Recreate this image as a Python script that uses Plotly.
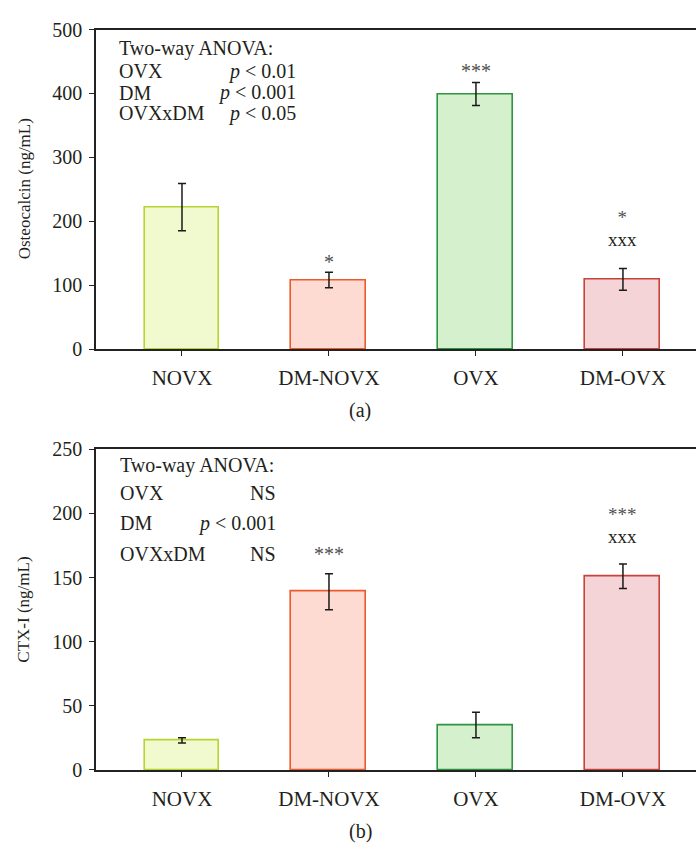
import plotly.graph_objects as go

# ---------------- data ----------------
categories = ["NOVX", "DM-NOVX", "OVX", "DM-OVX"]
osteocalcin_mean = [222, 108, 399, 109]
osteocalcin_err = [37, 12, 18, 17]
ctx_mean = [23, 139, 35, 151]
ctx_err = [2, 14, 10, 9.5]

# significance marks: (stars vs NOVX, x-marks vs OVX)
sig_stars_a = ["", "*", "***", "*"]
sig_x_a = ["", "", "", "xxx"]
sig_stars_b = ["", "***", "", "***"]
sig_x_b = ["", "", "", "xxx"]

anova_a_rows = ["OVX", "DM", "OVXxDM"]
anova_a_vals = ["<i>p</i> &lt; 0.01", "<i>p</i> &lt; 0.001", "<i>p</i> &lt; 0.05"]
anova_b_rows = ["OVX", "DM", "OVXxDM"]
anova_b_vals = ["NS", "<i>p</i> &lt; 0.001", "NS"]

y_ticks_a = [0, 100, 200, 300, 400, 500]
y_ticks_b = [0, 50, 100, 150, 200, 250]

# ---------------- style ----------------
fill_colors = ["#f1f9cf", "#fddbd2", "#d5f0cd", "#f4d4d6"]
edge_colors = ["#b5d631", "#ec5a2c", "#2e9440", "#c8433a"]
W, H = 696, 852
FONT = "Liberation Serif"
TXT = "#231f20"
STAR = "#505050"


def px_x(p):
    return p / W


def px_y(p):
    return 1 - p / H


fig = go.Figure()

panels = [
    dict(mean=osteocalcin_mean, err=osteocalcin_err, xa="x", ya="y",
         stars=sig_stars_a, xs=sig_x_a, top=19, bottom=347, rng=[0, 500],
         ticks=y_ticks_a, title="Osteocalcin (ng/mL)", label="(a)",
         rows=anova_a_rows, vals=anova_a_vals,
         head_y=38, row_y=[62, 84, 105], left=117, right=298,
         sig_shift=[0, -3, -1, 17]),
    dict(mean=ctx_mean, err=ctx_err, xa="x2", ya="y2",
         stars=sig_stars_b, xs=sig_x_b, top=450, bottom=779, rng=[0, 250],
         ticks=y_ticks_b, title="CTX-I (ng/mL)", label="(b)",
         rows=anova_b_rows, vals=anova_b_vals,
         head_y=467, row_y=[495, 526, 557], left=118, right=278,
         sig_shift=[0, 7, 0, 15]),
]

layout_axes = {}
annotations = []
for i, p in enumerate(panels):
    fig.add_trace(go.Bar(
        x=categories, y=p["mean"], width=0.51,
        marker=dict(color=fill_colors, line=dict(color=edge_colors, width=1.6)),
        error_y=dict(type="data", array=p["err"], color="#1a1a1a",
                     thickness=1.5, width=4),
        xaxis=p["xa"], yaxis=p["ya"], showlegend=False, hoverinfo="skip",
    ))
    sfx = "" if i == 0 else "2"
    dom_y = [px_y(p["bottom"]), px_y(p["top"])]
    layout_axes["xaxis" + sfx] = dict(
        domain=[px_x(96), 1], anchor="y" + sfx, type="category",
        range=[-0.585, 3.497], showline=True, linecolor="#222", linewidth=2,
        mirror=True, ticks="outside", ticklen=5, tickcolor="#222", tickwidth=1,
        ticklabelstandoff=4,
        tickfont=dict(family=FONT, size=21, color=TXT), showgrid=False,
        zeroline=False, fixedrange=True,
    )
    layout_axes["yaxis" + sfx] = dict(
        domain=dom_y, anchor="x" + sfx, range=p["rng"], tickvals=p["ticks"],
        showline=True, linecolor="#222", linewidth=1.5, ticks="outside",
        ticklen=5, tickcolor="#222", tickwidth=1, ticklabelstandoff=3,
        tickfont=dict(family=FONT, size=20, color=TXT), showgrid=False,
        zeroline=False, fixedrange=True,
    )
    # significance marks
    for ci in range(len(categories)):
        st, xx = p["stars"][ci], p["xs"][ci]
        if not st and not xx:
            continue
        ytop = p["mean"][ci] + p["err"][ci]
        if st and xx:
            text = ("<span style='font-size:19px;color:%s'>%s</span><br>"
                    "<span style='font-size:19px'>%s</span>" % (STAR, st, xx))
            size, color = 17, TXT
        else:
            text, size, color = (st or xx), 20, (STAR if st else TXT)
        annotations.append(dict(
            x=categories[ci], y=ytop, xref=p["xa"], yref=p["ya"],
            text=text, showarrow=False, yanchor="bottom",
            yshift=p["sig_shift"][ci],
            font=dict(family=FONT, size=size, color=color),
        ))
    # ANOVA block
    annotations.append(dict(
        x=px_x(p["left"]), y=px_y(p["head_y"]), xref="paper", yref="paper",
        text="Two-way ANOVA:", showarrow=False, xanchor="left", yanchor="middle",
        font=dict(family=FONT, size=20, color=TXT)))
    for r, v, yy in zip(p["rows"], p["vals"], p["row_y"]):
        annotations.append(dict(
            x=px_x(p["left"]), y=px_y(yy), xref="paper", yref="paper",
            text=r, showarrow=False, xanchor="left", yanchor="middle",
            font=dict(family=FONT, size=20, color=TXT)))
        annotations.append(dict(
            x=px_x(p["right"]), y=px_y(yy), xref="paper", yref="paper",
            text=v, showarrow=False, xanchor="right", yanchor="middle",
            font=dict(family=FONT, size=20, color=TXT)))
    # y title
    annotations.append(dict(
        x=px_x(24), y=px_y((p["top"] + p["bottom"]) / 2), xref="paper",
        yref="paper", text=p["title"], textangle=-90, showarrow=False,
        xanchor="center", yanchor="middle",
        font=dict(family=FONT, size=17, color=TXT)))
    # panel label
    annotations.append(dict(
        x=px_x(360), y=px_y(p["bottom"] + 63), xref="paper", yref="paper",
        text=p["label"], showarrow=False, xanchor="center", yanchor="middle",
        font=dict(family=FONT, size=20, color=TXT)))

fig.update_layout(
    width=W, height=H, margin=dict(l=0, r=0, t=0, b=0),
    paper_bgcolor="white", plot_bgcolor="white",
    annotations=annotations, bargap=0, **layout_axes,
)

fig.write_html(
    "out.html",
    config={"displayModeBar": False},
    post_script="document.body.style.margin='0';document.body.style.overflow='hidden';",
)
